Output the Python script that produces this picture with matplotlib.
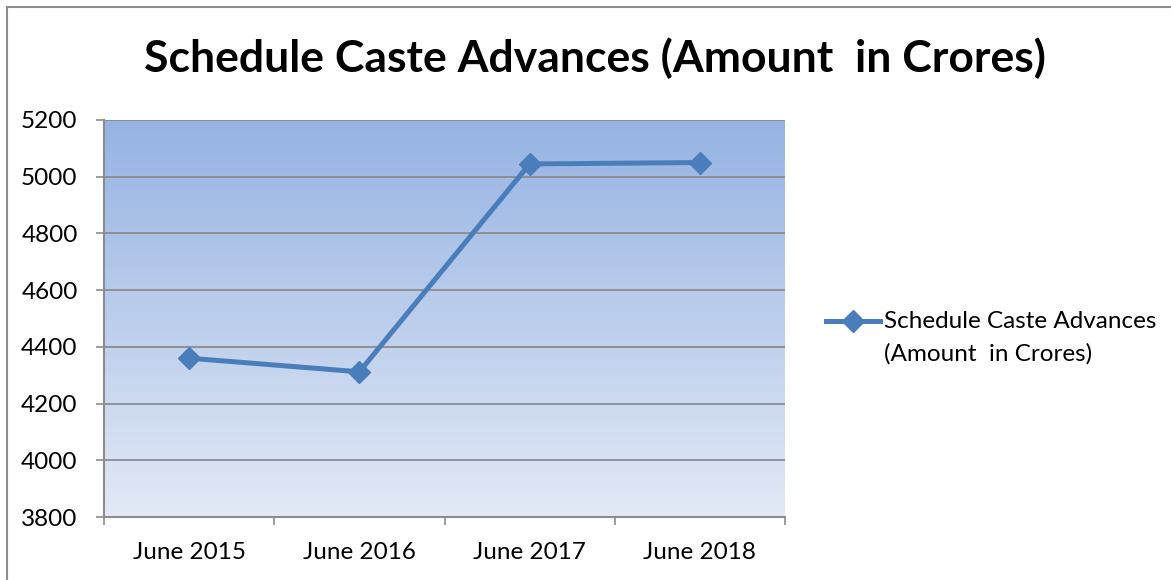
import matplotlib
matplotlib.use('Agg')
import matplotlib.pyplot as plt
import numpy as np
from matplotlib.colors import LinearSegmentedColormap

plt.rcParams['font.family'] = ['Lato', 'DejaVu Sans']

categories = ['June 2015', 'June 2016', 'June 2017', 'June 2018']
values = [4360, 4312, 5045, 5050]
yticks = [3800, 4000, 4200, 4400, 4600, 4800, 5000, 5200]
series_name = ['Schedule Caste Advances', '(Amount  in Crores)']
title = 'Schedule Caste Advances (Amount  in Crores)'

fig = plt.figure(figsize=(11.71, 5.8), dpi=100)
ax = fig.add_axes([104/1171, 63/580, 681/1171, 397/580])

# outer chart border (only top and left visible in the crop)
fig.add_artist(plt.Line2D([7/1171, 1.01], [1-7/580, 1-7/580], color='#8c8c8c', lw=1.5, transform=fig.transFigure))
fig.add_artist(plt.Line2D([7/1171, 7/1171], [-0.01, 1-7/580], color='#8c8c8c', lw=1.5, transform=fig.transFigure))

# gradient background
cmap = LinearSegmentedColormap.from_list('bg', ['#e3e9f6', '#95b3e3'])
grad = np.linspace(0, 1, 256).reshape(-1, 1)
ax.imshow(grad, cmap=cmap, aspect='auto', extent=[0, 1, 0, 1], transform=ax.transAxes,
          origin='lower', zorder=0)

x = np.arange(len(categories)) + 0.5
ax.plot(x, values, color='#4a7ebb', lw=3.6, marker='D', markersize=11, zorder=3)

ax.set_xlim(0, len(categories))
ax.set_ylim(3800, 5200)
ax.set_yticks(yticks)
ax.set_yticklabels([str(v) for v in yticks], fontsize=17.5)
ax.set_xticks(np.arange(len(categories) + 1))
ax.set_xticklabels([])
ax.set_xticks(x, minor=True)
ax.set_xticklabels(categories, minor=True, fontsize=17.5)
ax.tick_params(axis='x', which='minor', length=0, pad=18)
ax.tick_params(axis='both', which='major', length=6, width=1.2, color='#8c8c8c')
ax.tick_params(axis='y', which='major', pad=13)
ax.yaxis.grid(True, color='#8c8c8c', lw=1.3)
ax.set_axisbelow(False)
for s in ['top', 'right']:
    ax.spines[s].set_visible(False)
for s in ['left', 'bottom']:
    ax.spines[s].set_color('#8c8c8c')
    ax.spines[s].set_linewidth(1.5)

fig.text(595/1171, 1-58/580, title, fontsize=32, fontweight='bold', ha='center', va='center')

# legend drawn by hand: marker aligned with the first text line, like Excel
ly = 1 - 321/580
fig.add_artist(plt.Line2D([826/1171, 880/1171], [ly, ly], color='#4a7ebb', lw=3.6,
                          transform=fig.transFigure))
fig.add_artist(plt.Line2D([853/1171], [ly], color='#4a7ebb', marker='D', markersize=11,
                          transform=fig.transFigure))
fig.text(884/1171, ly, series_name[0], fontsize=17.5, ha='left', va='center')
fig.text(884/1171, 1 - 354/580, series_name[1], fontsize=17.5, ha='left', va='center')

fig.savefig('out.png', dpi=100)
